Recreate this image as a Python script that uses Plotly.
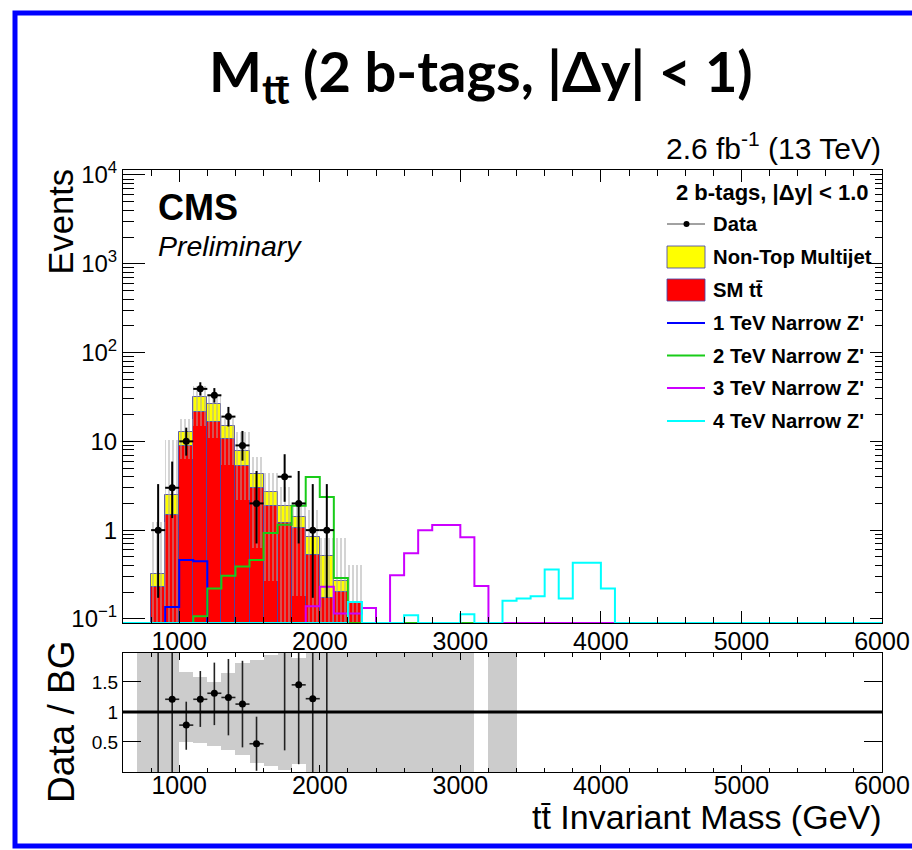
import numpy as np
import plotly.graph_objects as go

# ---------------------------------------------------------------- binning
X_MIN, X_MAX, BIN_W = 600, 6000, 100
Y_LOG_MIN, Y_LOG_MAX = np.log10(0.09), 4.056

# ---------------------------------------------------------------- backgrounds (events per 100 GeV bin, bin low edge in GeV)
bkg_bins = [800, 900, 1000, 1100, 1200, 1300, 1400, 1500, 1600, 1700, 1800, 1900, 2000, 2100, 2200]
ttbar = [0.23, 1.5, 8.9, 21.6, 16.7, 10.6, 5.3, 3.0, 1.85, 1.2, 1.05, 0.53, 0.17, 0.20, 0.15]
multijet = [0.09, 1.0, 4.0, 10.3, 9.5, 4.3, 2.5, 1.3, 0.85, 0.68, 0.35, 0.31, 0.34, 0.065, 0.0]
# total background uncertainty envelope
bkg_unc_lo = [0.01, 0.01, 6.3, 15.0, 11.0, 5.4, 2.2, 0.63, 0.27, 0.01, 0.18, 0.01, 0.01, 0.01, 0.01]
bkg_unc_hi = [1.25, 10.4, 17.8, 42.0, 34.0, 19.0, 12.9, 6.7, 4.4, 3.1, 2.0, 1.7, 0.81, 0.81, 0.41]

# ---------------------------------------------------------------- narrow Z' signals
z1_bins = [900, 1000, 1100]
z1_vals = [0.136, 0.46, 0.445]
z2_bins = [1100, 1200, 1300, 1400, 1500, 1600, 1700, 1800, 1900, 2000, 2100]
z2_vals = [0.107, 0.22, 0.307, 0.39, 0.46, 0.93, 1.15, 1.88, 3.96, 2.36, 0.29]
z3_bins = [1900, 2000, 2100, 2200, 2300, 2500, 2600, 2700, 2800, 2900, 3000, 3100]
z3_vals = [0.139, 0.23, 0.115, 0.115, 0.133, 0.31, 0.55, 1.0, 1.14, 1.14, 0.83, 0.235]
z4_bins = [2200, 2600, 3000, 3300, 3400, 3500, 3600, 3700, 3800, 3900, 4000]
z4_vals = [0.155, 0.11, 0.113, 0.16, 0.17, 0.18, 0.36, 0.17, 0.43, 0.43, 0.22]

# ---------------------------------------------------------------- data
data_x = [850, 950, 1050, 1150, 1250, 1350, 1450, 1550, 1750, 1850, 1950, 2050]
data_n = [1, 3, 10, 39, 33, 19, 9, 2, 4, 2, 1, 1]
data_err_lo = [0.827, 1.633, 3.10, 6.22, 5.71, 4.32, 2.94, 1.292, 1.914, 1.292, 0.827, 0.827]
data_err_hi = [2.300, 2.918, 4.26, 7.29, 6.80, 5.43, 4.10, 2.638, 3.162, 2.638, 2.300, 2.300]

# ---------------------------------------------------------------- data / background
ratio_y = [3.1, 1.21, 0.78, 1.21, 1.31, 1.24, 1.13, 0.47, 2.2, 1.45, 1.22, 2.04]
ratio_err_hi = [3.0, 1.3, 0.39, 0.47, 0.51, 0.64, 0.72, 0.45, 1.8, 1.32, 1.25, 1.95]
ratio_err_lo = [3.1, 1.21, 0.41, 0.46, 0.53, 0.63, 0.72, 0.45, 1.84, 1.32, 1.22, 2.04]
ratio_band_bins = [700, 800, 900, 1000, 1100, 1200, 1300, 1400, 1500, 1600, 1700, 1800,
                   1900, 2000, 2100, 2200, 2300, 2400, 2500, 2600, 2700, 2800, 2900, 3000,
                   3200, 3300]
ratio_band_lo = [0, 0, 0, 0.50, 0.48, 0.43, 0.37, 0.28, 0.15, 0.10, 0.03, 0.14,
                 0, 0, 0, 0, 0, 0, 0, 0, 0, 0, 0, 0, 0, 0]
ratio_band_hi = [2.5, 2.5, 2.5, 1.67, 1.58, 1.50, 1.65, 1.82, 1.87, 1.95, 2.5, 1.90,
                 2.5, 2.5, 2.5, 2.5, 2.5, 2.5, 2.5, 2.5, 2.5, 2.5, 2.5, 2.5, 2.5, 2.5]

x_tick_vals = [1000, 2000, 3000, 4000, 5000, 6000]
y_tick_vals = [0.1, 1, 10, 100, 1000, 10000]
y_tick_text = ["10<sup>\u22121</sup>", "1", "10", "10<sup>2</sup>", "10<sup>3</sup>", "10<sup>4</sup>"]
r_tick_vals = [0.5, 1, 1.5]
r_tick_text = ["0.5", "1", "1.5"]

# ---------------------------------------------------------------- page geometry (pixels)
W, H = 912, 850
L, R, T, B = 123, 30, 170, 78
MAIN_BOTTOM_PX, RATIO_TOP_PX = 623, 653


def fx(px):
    return (px - L) / (W - L - R)


def fy(py):
    return (H - B - py) / (H - T - B)


ROOT_FONT = "Liberation Sans, Arial, sans-serif"
Y_FLOOR = 10 ** Y_LOG_MIN
edges = np.arange(X_MIN, X_MAX + BIN_W, BIN_W)


def full_hist(bins, vals):
    h = np.zeros(len(edges) - 1)
    for b, v in zip(bins, vals):
        h[(b - X_MIN) // BIN_W] = v
    return h


def step_xy(bins, vals):
    h = np.clip(full_hist(bins, vals), Y_FLOOR, None)
    return edges, np.append(h, h[-1])


centers = np.array(bkg_bins) + BIN_W / 2
tt = np.array(ttbar)
mj = np.array(multijet)

fig = go.Figure()

# stacked background: SM ttbar at the bottom, multijet on top
outline = dict(color="rgba(70,70,170,0.85)", width=1)
fig.add_trace(go.Bar(x=centers, y=tt - 0.001, base=0.001, width=BIN_W,
                     marker=dict(color="#ff0000", line=outline), showlegend=False,
                     xaxis="x", yaxis="y"))
keep = mj > 0
fig.add_trace(go.Bar(x=centers[keep], y=mj[keep], base=tt[keep], width=BIN_W,
                     marker=dict(color="#ffff00", line=outline), showlegend=False,
                     xaxis="x", yaxis="y"))

# background uncertainty (hatched)
lo = np.array(bkg_unc_lo)
hi = np.array(bkg_unc_hi)
fig.add_trace(go.Bar(x=centers, y=hi - lo, base=lo, width=BIN_W,
                     marker=dict(color="rgba(0,0,0,0)", line=dict(width=0),
                                 pattern=dict(shape="|", fgcolor="#a8a8a8", fgopacity=0.55,
                                              bgcolor="rgba(0,0,0,0)", size=4, solidity=0.45)),
                     showlegend=False, xaxis="x", yaxis="y"))

# signal templates
for bins, vals, col in [(z1_bins, z1_vals, "#0000ff"), (z2_bins, z2_vals, "#19cc19"),
                        (z3_bins, z3_vals, "#cc00ff"), (z4_bins, z4_vals, "#00ffff")]:
    sx, sy = step_xy(bins, vals)
    fig.add_trace(go.Scatter(x=sx, y=sy, mode="lines", line=dict(color=col, width=2, shape="hv"),
                             showlegend=False, xaxis="x", yaxis="y"))

# data
fig.add_trace(go.Scatter(x=data_x, y=data_n, mode="markers",
                         marker=dict(color="black", size=7),
                         error_y=dict(type="data", array=data_err_hi, arrayminus=data_err_lo,
                                      color="black", thickness=2, width=0),
                         error_x=dict(type="constant", value=BIN_W / 2, color="black",
                                      thickness=2, width=0),
                         showlegend=False, xaxis="x", yaxis="y"))

# dummy trace so the right-hand tick axis is drawn
fig.add_trace(go.Scatter(x=[X_MIN], y=[1], mode="markers", marker=dict(opacity=0),
                         showlegend=False, hoverinfo="skip", xaxis="x", yaxis="y3"))

# ratio panel
rb_c = np.array(ratio_band_bins) + BIN_W / 2
rb_lo = np.array(ratio_band_lo)
rb_hi = np.array(ratio_band_hi)
fig.add_trace(go.Bar(x=rb_c, y=rb_hi - rb_lo, base=rb_lo, width=BIN_W,
                     marker=dict(color="#cccccc", line=dict(width=0)),
                     showlegend=False, xaxis="x2", yaxis="y2"))
fig.add_trace(go.Scatter(x=data_x, y=ratio_y, mode="markers",
                         marker=dict(color="black", size=7),
                         error_y=dict(type="data", array=ratio_err_hi, arrayminus=ratio_err_lo,
                                      color="#222222", thickness=1.6, width=0),
                         error_x=dict(type="constant", value=BIN_W / 2, color="#222222",
                                      thickness=1.6, width=0),
                         showlegend=False, xaxis="x2", yaxis="y2"))

# ---------------------------------------------------------------- axes
minor_log = [m * 10.0 ** e for e in range(-1, 4) for m in range(2, 10)]
tickfont = dict(family=ROOT_FONT, size=25, color="black")
common_x = dict(range=[X_MIN, X_MAX], showgrid=False, zeroline=False, showline=True,
                linecolor="black", linewidth=1, mirror="ticks", ticks="inside",
                tickcolor="black", tickwidth=1, tickvals=x_tick_vals, automargin=False,
                ticktext=[str(v) for v in x_tick_vals], tickfont=tickfont)
main_dom = [(H - B - MAIN_BOTTOM_PX) / (H - T - B), 1.0]
ratio_dom = [0.0, (H - B - RATIO_TOP_PX) / (H - T - B)]

fig.update_layout(
    width=W, height=H, margin=dict(l=L, r=R, t=T, b=B, autoexpand=False),
    paper_bgcolor="white", plot_bgcolor="white", barmode="overlay", bargap=0,
    xaxis=dict(common_x, anchor="y", domain=[0, 1], ticklen=12, ticklabelstandoff=-4,
               minor=dict(ticks="inside", ticklen=6, dtick=200, tick0=0, tickcolor="black")),
    yaxis=dict(type="log", range=[Y_LOG_MIN, Y_LOG_MAX], domain=main_dom, anchor="x",
               showgrid=False, zeroline=False, showline=True, linecolor="black", linewidth=1,
               mirror=True, ticks="inside", ticklen=22, tickcolor="black", tickwidth=1,
               tickmode="array", tickvals=y_tick_vals, ticktext=y_tick_text,
               tickfont=dict(family=ROOT_FONT, size=24, color="black"), automargin=False,
               minor=dict(ticks="inside", ticklen=11, tickmode="array", tickvals=minor_log,
                          tickcolor="black")),
    yaxis3=dict(type="log", range=[Y_LOG_MIN, Y_LOG_MAX], overlaying="y", side="right",
                anchor="x", showgrid=False, zeroline=False, showline=False, automargin=False,
                ticks="inside", ticklen=12, tickcolor="black", tickwidth=1,
                tickmode="array", tickvals=y_tick_vals, showticklabels=False,
                minor=dict(ticks="inside", ticklen=7, tickmode="array", tickvals=minor_log,
                           tickcolor="black")),
    xaxis2=dict(common_x, anchor="y2", domain=[0, 1], ticklen=7, ticklabelstandoff=-9,
                minor=dict(ticks="inside", ticklen=4, dtick=200, tick0=0, tickcolor="black")),
    yaxis2=dict(range=[0, 1.98], domain=ratio_dom, anchor="x2", showgrid=False,
                zeroline=False, showline=True, linecolor="black", linewidth=1, mirror="ticks",
                ticks="inside", ticklen=18, tickcolor="black", tickwidth=1, automargin=False,
                tickmode="array", tickvals=r_tick_vals, ticktext=r_tick_text,
                tickfont=dict(family=ROOT_FONT, size=19, color="black")),
)

# unity line on the ratio
fig.add_shape(type="line", xref="x2 domain", x0=0, x1=1, yref="y2", y0=1, y1=1,
              line=dict(color="black", width=3))

# slide frame
fig.add_shape(type="rect", xref="paper", yref="paper", x0=fx(15), x1=fx(960),
              y0=fy(846), y1=fy(13), line=dict(color="#0000ff", width=5))


def text(px, py, s, size, xanchor="left", yanchor="middle", family=ROOT_FONT, angle=0,
         color="black"):
    fig.add_annotation(x=fx(px), y=fy(py), xref="paper", yref="paper", text=s,
                       showarrow=False, xanchor=xanchor, yanchor=yanchor, textangle=angle,
                       borderpad=0, font=dict(family=family, size=size, color=color))


# slide title
text(481, 74, "<b>M<sub>tt\u0304</sub> (2 b-tags, |\u0394y| &lt; 1)</b>", 56,
     xanchor="center", family="Lato, sans-serif")

# plot labels
text(882, 146, "2.6 fb<sup>-1</sup> (13 TeV)", 30, xanchor="right")
text(157, 207, "<b>CMS</b>", 36)
text(157, 246, "<i>Preliminary</i>", 28.5)
text(61, 169, "Events", 34.5, xanchor="center", yanchor="top", angle=-90)
text(61, 722, "Data / BG", 37, xanchor="center", angle=-90)
text(883, 817, "tt\u0304 Invariant Mass (GeV)", 34, xanchor="right")

# legend
text(870, 193, "<b>2 b-tags, |\u0394y| &lt; 1.0</b>", 22, xanchor="right")
leg_x0, leg_x1, leg_tx = 667, 705, 712
leg_rows = [
    ("data", None, "Data", 224),
    ("box", "#ffff00", "Non-Top Multijet", 257),
    ("box", "#ff0000", "SM tt\u0304", 290),
    ("line", "#0000ff", "1 TeV Narrow Z'", 323),
    ("line", "#19cc19", "2 TeV Narrow Z'", 355.5),
    ("line", "#cc00ff", "3 TeV Narrow Z'", 388),
    ("line", "#00ffff", "4 TeV Narrow Z'", 421),
]
for kind, col, label, yc in leg_rows:
    if kind == "box":
        fig.add_shape(type="rect", xref="paper", yref="paper", x0=fx(leg_x0), x1=fx(leg_x1),
                      y0=fy(yc + 11), y1=fy(yc - 11), fillcolor=col,
                      line=dict(color="rgba(70,70,170,0.85)", width=1))
    elif kind == "line":
        fig.add_shape(type="line", xref="paper", yref="paper", x0=fx(leg_x0), x1=fx(leg_x1),
                      y0=fy(yc), y1=fy(yc), line=dict(color=col, width=2))
    else:
        fig.add_shape(type="line", xref="paper", yref="paper", x0=fx(leg_x0), x1=fx(leg_x1),
                      y0=fy(yc), y1=fy(yc), line=dict(color="#444444", width=1))
        fig.add_shape(type="circle", xref="paper", yref="paper", x0=fx(683.5), x1=fx(689.5),
                      y0=fy(yc + 3), y1=fy(yc - 3), fillcolor="black", line=dict(width=0))
    text(leg_tx, yc, "<b>" + label + "</b>", 20.3)

fig.write_html("out.html")
